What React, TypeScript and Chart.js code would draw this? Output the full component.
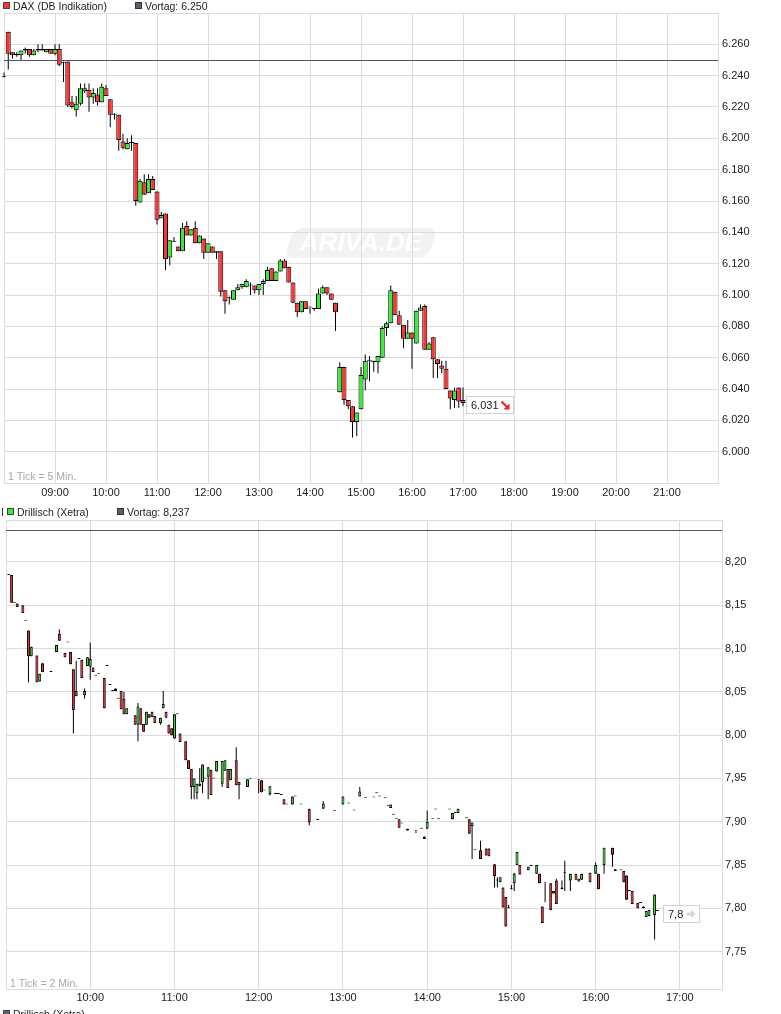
import React, { useEffect, useRef } from 'react';
import { Chart, registerables } from 'chart.js';

Chart.register(...registerables);

// ---------------- DAX (DB Indikation), 5-minute candles ----------------
const daxTimes = [
  '08:00', '08:05', '08:10', '08:15', '08:20', '08:25', '08:30', '08:35', '08:40', '08:45', '08:50', '08:55',
  '09:00', '09:05', '09:10', '09:15', '09:20', '09:25', '09:30', '09:35', '09:40', '09:45', '09:50', '09:55',
  '10:00', '10:05', '10:10', '10:15', '10:20', '10:25', '10:30', '10:35', '10:40', '10:45', '10:50', '10:55',
  '11:00', '11:05', '11:10', '11:15', '11:20', '11:25', '11:30', '11:35', '11:40', '11:45', '11:50', '11:55',
  '12:00', '12:05', '12:10', '12:15', '12:20', '12:25', '12:30', '12:35', '12:40', '12:45', '12:50', '12:55',
  '13:00', '13:05', '13:10', '13:15', '13:20', '13:25', '13:30', '13:35', '13:40', '13:45', '13:50', '13:55',
  '14:00', '14:05', '14:10', '14:15', '14:20', '14:25', '14:30', '14:35', '14:40', '14:45', '14:50', '14:55',
  '15:00', '15:05', '15:10', '15:15', '15:20', '15:25', '15:30', '15:35', '15:40', '15:45', '15:50', '15:55',
  '16:00', '16:05', '16:10', '16:15', '16:20', '16:25', '16:30', '16:35', '16:40', '16:45', '16:50', '16:55',
  '17:00',
];
const daxOpen = [
  6239, 6268, 6255, 6253, 6253, 6256, 6257, 6253, 6256, 6257, 6255, 6257,
  6254, 6257, 6248, 6249, 6223, 6218, 6222, 6230, 6231, 6226, 6228, 6223,
  6232, 6225, 6215, 6215, 6198, 6193, 6197, 6197, 6159, 6172, 6165, 6174,
  6166, 6149, 6152, 6124, 6134, 6131, 6128, 6144, 6138, 6143, 6133, 6136,
  6127, 6131, 6128, 6128, 6103, 6098, 6097, 6103, 6105, 6105, 6106, 6106,
  6103, 6107, 6109, 6117, 6109, 6115, 6122, 6118, 6108, 6095, 6089, 6096,
  6092, 6091, 6091, 6101, 6105, 6101, 6095, 6038, 6054, 6033, 6029, 6019,
  6027, 6046, 6058, 6058, 6057, 6060, 6079, 6082, 6102, 6087, 6081, 6072,
  6076, 6069, 6090, 6093, 6065, 6073, 6059, 6055, 6053, 6039, 6033, 6041,
  6033,
];
const daxHigh = [
  6242, 6268, 6255, 6255, 6256, 6258, 6257, 6257, 6260, 6260, 6257, 6257,
  6260, 6260, 6249, 6249, 6227, 6227, 6235, 6235, 6235, 6232, 6232, 6235,
  6234, 6225, 6216, 6215, 6203, 6200, 6202, 6197, 6174, 6177, 6177, 6176,
  6166, 6153, 6152, 6135, 6137, 6131, 6146, 6147, 6142, 6147, 6138, 6136,
  6133, 6131, 6128, 6128, 6103, 6099, 6103, 6107, 6107, 6110, 6108, 6106,
  6107, 6110, 6118, 6117, 6115, 6123, 6123, 6118, 6108, 6095, 6096, 6096,
  6092, 6091, 6104, 6106, 6105, 6101, 6095, 6057, 6054, 6033, 6029, 6025,
  6054, 6062, 6061, 6058, 6061, 6080, 6083, 6106, 6102, 6090, 6081, 6084,
  6076, 6090, 6094, 6094, 6070, 6073, 6059, 6058, 6058, 6039, 6041, 6041,
  6041,
];
const daxLow = [
  6239, 6244, 6251, 6252, 6250, 6254, 6252, 6253, 6255, 6256, 6255, 6254,
  6253, 6246, 6236, 6220, 6219, 6214, 6221, 6229, 6217, 6222, 6221, 6223,
  6227, 6207, 6212, 6192, 6193, 6193, 6192, 6157, 6159, 6164, 6165, 6167,
  6145, 6149, 6116, 6119, 6134, 6128, 6128, 6138, 6138, 6133, 6133, 6123,
  6127, 6127, 6123, 6099, 6088, 6094, 6097, 6103, 6104, 6105, 6100, 6101,
  6100, 6100, 6109, 6109, 6109, 6115, 6117, 6108, 6095, 6086, 6089, 6091,
  6088, 6090, 6091, 6101, 6100, 6097, 6077, 6038, 6030, 6027, 6009, 6010,
  6027, 6039, 6045, 6051, 6050, 6060, 6074, 6082, 6087, 6081, 6066, 6072,
  6053, 6069, 6090, 6065, 6065, 6047, 6047, 6050, 6040, 6027, 6028, 6028,
  6029,
];
const daxClose = [
  6239, 6254, 6253, 6254, 6256, 6257, 6253, 6256, 6257, 6256, 6257, 6254,
  6257, 6247, 6248, 6221, 6220, 6222, 6232, 6232, 6226, 6229, 6223, 6233,
  6227, 6215, 6215, 6199, 6194, 6197, 6197, 6160, 6173, 6164, 6174, 6167,
  6148, 6151, 6123, 6135, 6134, 6128, 6143, 6138, 6142, 6133, 6138, 6127,
  6133, 6127, 6127, 6102, 6096, 6098, 6103, 6105, 6107, 6109, 6106, 6103,
  6107, 6109, 6116, 6109, 6115, 6122, 6117, 6108, 6095, 6089, 6096, 6091,
  6092, 6091, 6101, 6105, 6101, 6097, 6089, 6054, 6033, 6029, 6019, 6025,
  6049, 6058, 6058, 6057, 6061, 6079, 6082, 6103, 6087, 6081, 6072, 6076,
  6072, 6090, 6092, 6065, 6069, 6059, 6056, 6053, 6040, 6034, 6039, 6032,
  6031,
];
const daxPrevClose = 6250;
const daxYTicks = [6000, 6020, 6040, 6060, 6080, 6100, 6120, 6140, 6160, 6180, 6200, 6220, 6240, 6260];
const daxXTicks = ['09:00', '10:00', '11:00', '12:00', '13:00', '14:00', '15:00', '16:00', '17:00', '18:00', '19:00', '20:00', '21:00'];

// ---------------- Drillisch (Xetra), 2-minute candles ----------------
const drlTimes = [
  '09:02', '09:04', '09:06', '09:08', '09:12', '09:14', '09:16', '09:18', '09:22', '09:24', '09:26', '09:32', '09:36', '09:38', '09:42', '09:44', '09:46', '09:48', '09:50', '09:52', '09:54', '09:56', '09:58',
  '10:00', '10:02', '10:04', '10:06', '10:10', '10:12', '10:14', '10:16', '10:18', '10:20', '10:22', '10:24', '10:26', '10:32', '10:34', '10:36', '10:38', '10:40', '10:42', '10:44', '10:46', '10:50', '10:52', '10:54', '10:56', '10:58',
  '11:00', '11:02', '11:04', '11:08', '11:10', '11:12', '11:14', '11:16', '11:18', '11:20', '11:22', '11:24', '11:26', '11:28', '11:30', '11:34', '11:36', '11:38', '11:40', '11:44', '11:46', '11:52', '11:54',
  '12:00', '12:02', '12:04', '12:08', '12:12', '12:14', '12:16', '12:18', '12:20', '12:24', '12:26', '12:30', '12:36', '12:42', '12:46', '12:54',
  '13:00', '13:04', '13:08', '13:12', '13:16', '13:22', '13:24', '13:26', '13:30', '13:32', '13:34', '13:36', '13:38', '13:40', '13:42', '13:46', '13:52', '13:56', '13:58',
  '14:00', '14:04', '14:06', '14:08', '14:16', '14:18', '14:20', '14:22', '14:28', '14:30', '14:32', '14:34', '14:38', '14:42', '14:44', '14:48', '14:50', '14:52', '14:54', '14:56', '14:58',
  '15:00', '15:02', '15:04', '15:06', '15:12', '15:14', '15:18', '15:20', '15:22', '15:24', '15:28', '15:30', '15:32', '15:36', '15:38', '15:42', '15:46', '15:48', '15:50', '15:56',
  '16:00', '16:02', '16:06', '16:12', '16:14', '16:18', '16:20', '16:22', '16:24', '16:26', '16:30', '16:32', '16:34', '16:36', '16:38', '16:42', '16:44',
];
const drlOpen = [
  8.185, 8.185, 8.153, 8.152, 8.150, 8.132, 8.121, 8.091, 8.092, 8.062, 8.083, 8.073, 8.096, 8.117, 8.095, 8.107, 8.096, 8.076, 8.051, 8.088, 8.087, 8.046, 8.080,
  8.079, 8.078, 8.068, 8.071, 8.066, 8.080, 8.058, 8.051, 8.054, 8.042, 8.051, 8.042, 8.024, 8.023, 8.012, 8.031, 8.013, 8.012, 8.024, 8.027, 8.022, 8.014, 8.031, 8.027, 8.012, 8.008,
  7.996, 8.024, 8.002, 7.993, 7.971, 7.961, 7.940, 7.933, 7.944, 7.946, 7.950, 7.952, 7.960, 7.950, 7.958, 7.944, 7.959, 7.961, 7.948, 7.971, 7.946, 7.940, 7.949,
  7.948, 7.948, 7.936, 7.932, 7.932, 7.932, 7.931, 7.926, 7.920, 7.920, 7.929, 7.920, 7.915, 7.902, 7.915, 7.912,
  7.920, 7.921, 7.913, 7.929, 7.927, 7.928, 7.933, 7.929, 7.927, 7.918, 7.916, 7.908, 7.903, 7.903, 7.898, 7.892, 7.889, 7.892, 7.883,
  7.892, 7.903, 7.914, 7.903, 7.914, 7.903, 7.910, 7.910, 7.904, 7.903, 7.895, 7.867, 7.867, 7.869, 7.869, 7.851, 7.832, 7.830, 7.824, 7.813, 7.800,
  7.822, 7.829, 7.850, 7.850, 7.844, 7.849, 7.840, 7.840, 7.802, 7.829, 7.829, 7.817, 7.832, 7.822, 7.841, 7.832, 7.840, 7.831, 7.833, 7.841,
  7.840, 7.840, 7.850, 7.870, 7.845, 7.844, 7.843, 7.838, 7.820, 7.820, 7.806, 7.806, 7.802, 7.790, 7.791, 7.792, 7.797,
];
const drlHigh = [
  8.185, 8.185, 8.153, 8.152, 8.150, 8.132, 8.121, 8.102, 8.092, 8.071, 8.083, 8.073, 8.104, 8.122, 8.095, 8.107, 8.096, 8.076, 8.086, 8.088, 8.087, 8.054, 8.090,
  8.107, 8.078, 8.068, 8.071, 8.066, 8.080, 8.058, 8.051, 8.054, 8.042, 8.051, 8.050, 8.031, 8.023, 8.037, 8.031, 8.013, 8.027, 8.024, 8.027, 8.022, 8.020, 8.051, 8.027, 8.012, 8.008,
  8.024, 8.024, 8.002, 7.993, 7.971, 7.961, 7.950, 7.944, 7.962, 7.966, 7.950, 7.963, 7.960, 7.950, 7.970, 7.970, 7.971, 7.961, 7.961, 7.986, 7.946, 7.949, 7.949,
  7.948, 7.948, 7.936, 7.941, 7.932, 7.932, 7.931, 7.926, 7.920, 7.929, 7.929, 7.920, 7.915, 7.902, 7.924, 7.912,
  7.929, 7.921, 7.913, 7.940, 7.927, 7.928, 7.933, 7.929, 7.927, 7.918, 7.920, 7.908, 7.903, 7.903, 7.898, 7.892, 7.889, 7.892, 7.883,
  7.913, 7.903, 7.914, 7.903, 7.914, 7.910, 7.910, 7.915, 7.904, 7.903, 7.899, 7.867, 7.878, 7.869, 7.869, 7.851, 7.836, 7.836, 7.824, 7.813, 7.804,
  7.827, 7.841, 7.865, 7.850, 7.848, 7.849, 7.850, 7.840, 7.802, 7.829, 7.829, 7.820, 7.834, 7.832, 7.855, 7.840, 7.840, 7.834, 7.840, 7.841,
  7.853, 7.840, 7.870, 7.870, 7.845, 7.844, 7.843, 7.838, 7.820, 7.820, 7.806, 7.806, 7.802, 7.797, 7.798, 7.816, 7.797,
];
const drlLow = [
  8.185, 8.153, 8.153, 8.148, 8.141, 8.132, 8.061, 8.091, 8.061, 8.062, 8.073, 8.073, 8.096, 8.109, 8.090, 8.107, 8.082, 8.002, 8.045, 8.088, 8.066, 8.042, 8.080,
  8.064, 8.073, 8.068, 8.071, 8.031, 8.080, 8.058, 8.051, 8.051, 8.042, 8.030, 8.024, 8.024, 8.012, 7.993, 8.012, 8.004, 8.012, 8.020, 8.021, 8.014, 8.012, 8.031, 8.020, 8.002, 8.000,
  7.996, 8.024, 7.992, 7.971, 7.961, 7.926, 7.926, 7.926, 7.941, 7.933, 7.950, 7.926, 7.931, 7.950, 7.958, 7.940, 7.959, 7.939, 7.948, 7.942, 7.926, 7.940, 7.949,
  7.933, 7.934, 7.936, 7.930, 7.932, 7.932, 7.931, 7.920, 7.920, 7.920, 7.929, 7.920, 7.896, 7.902, 7.915, 7.912,
  7.920, 7.921, 7.913, 7.929, 7.927, 7.928, 7.933, 7.929, 7.927, 7.918, 7.916, 7.908, 7.903, 7.893, 7.898, 7.890, 7.887, 7.892, 7.880,
  7.892, 7.903, 7.914, 7.903, 7.914, 7.903, 7.910, 7.910, 7.904, 7.886, 7.857, 7.867, 7.857, 7.861, 7.860, 7.824, 7.824, 7.830, 7.801, 7.779, 7.800,
  7.822, 7.820, 7.850, 7.839, 7.844, 7.849, 7.840, 7.829, 7.783, 7.807, 7.798, 7.817, 7.805, 7.822, 7.820, 7.820, 7.833, 7.831, 7.833, 7.830,
  7.840, 7.822, 7.840, 7.848, 7.843, 7.844, 7.830, 7.810, 7.820, 7.805, 7.800, 7.806, 7.800, 7.790, 7.791, 7.764, 7.797,
];
const drlClose = [
  8.185, 8.153, 8.153, 8.148, 8.141, 8.132, 8.091, 8.102, 8.061, 8.071, 8.073, 8.073, 8.104, 8.109, 8.090, 8.107, 8.082, 8.029, 8.045, 8.088, 8.066, 8.051, 8.090,
  8.088, 8.073, 8.068, 8.071, 8.031, 8.080, 8.058, 8.051, 8.051, 8.042, 8.030, 8.024, 8.031, 8.012, 8.033, 8.012, 8.004, 8.027, 8.020, 8.021, 8.014, 8.020, 8.036, 8.020, 8.002, 8.000,
  8.024, 8.024, 7.992, 7.971, 7.961, 7.940, 7.950, 7.944, 7.941, 7.966, 7.950, 7.963, 7.931, 7.950, 7.970, 7.970, 7.971, 7.939, 7.961, 7.942, 7.942, 7.949, 7.949,
  7.948, 7.934, 7.936, 7.941, 7.932, 7.932, 7.931, 7.920, 7.920, 7.929, 7.929, 7.920, 7.899, 7.902, 7.921, 7.912,
  7.929, 7.921, 7.913, 7.935, 7.927, 7.928, 7.933, 7.929, 7.927, 7.918, 7.920, 7.908, 7.903, 7.893, 7.898, 7.890, 7.889, 7.892, 7.880,
  7.900, 7.903, 7.914, 7.903, 7.914, 7.910, 7.910, 7.915, 7.904, 7.886, 7.899, 7.867, 7.857, 7.861, 7.860, 7.837, 7.832, 7.836, 7.801, 7.779, 7.800,
  7.822, 7.840, 7.865, 7.839, 7.848, 7.849, 7.850, 7.829, 7.783, 7.829, 7.798, 7.820, 7.805, 7.824, 7.841, 7.840, 7.833, 7.834, 7.840, 7.830,
  7.850, 7.822, 7.870, 7.862, 7.843, 7.844, 7.830, 7.810, 7.820, 7.805, 7.800, 7.806, 7.800, 7.797, 7.798, 7.816, 7.797,
];
const drlPrevClose = 8.237;
const drlYTicks = [7.75, 7.8, 7.85, 7.9, 7.95, 8.0, 8.05, 8.1, 8.15, 8.2];
const drlXTicks = ['10:00', '11:00', '12:00', '13:00', '14:00', '15:00', '16:00', '17:00'];

// ---------------- styling ----------------
const RED = '#ff3333';
const GREEN = '#33ee33';
const GRID = '#dcdcdc';
const SLATE = '#50566b';
const TEXT = '#222222';
const FONT = "'Liberation Sans', Arial, sans-serif";
const NARROW = "'Liberation Sans Narrow', 'Arial Narrow', 'Liberation Sans', Arial, sans-serif";

Chart.defaults.font.family = FONT;

const toMin = (s: string) => {
  const [h, m] = s.split(':').map(Number);
  return h * 60 + m;
};
const fmtTime = (v: number) =>
  `${String(Math.floor(v / 60)).padStart(2, '0')}:${String(Math.round(v % 60)).padStart(2, '0')}`;
const fmtDax = (v: number) => `${Math.floor(v / 1000)}.${String(Math.round(v % 1000)).padStart(3, '0')}`;
const fmtComma = (d: number) => (v: number) => v.toFixed(d).replace('.', ',');

type Spec = {
  id: string;
  times: string[];
  open: number[];
  high: number[];
  low: number[];
  close: number[];
  prev: number;
  yTicks: number[];
  yMin: number;
  yMax: number;
  xTicks: string[];
  xStart: string;
  xEnd: string;
  fmtY: (v: number) => string;
  fmtPrev: (v: number) => string;
  fmtLast: (v: number) => string;
  name: string;
  nameColor: string;
  tickNote: string;
};

type Geo = {
  height: number;
  left: number;
  top: number;
  yAxisW: number;
  xAxisH: number;
  body: number;
  xPad: number;
  yPad: number;
  legendTop: number;
  legendX: number;
  prevX: number;
  bar: boolean;
  noteBase: number;
  box: { dx: number; dy: number; w: number; arrow: 'down' | 'right' };
  watermark: boolean;
  footer: boolean;
};

const daxSpec: Spec = {
  id: 'dax',
  times: daxTimes,
  open: daxOpen,
  high: daxHigh,
  low: daxLow,
  close: daxClose,
  prev: daxPrevClose,
  yTicks: daxYTicks,
  yMin: 5980,
  yMax: 6280,
  xTicks: daxXTicks,
  xStart: '08:00',
  xEnd: '22:00',
  fmtY: fmtDax,
  fmtPrev: fmtDax,
  fmtLast: fmtDax,
  name: 'DAX (DB Indikation)',
  nameColor: RED,
  tickNote: '1 Tick = 5 Min.',
};

const drlSpec: Spec = {
  id: 'drl',
  times: drlTimes,
  open: drlOpen,
  high: drlHigh,
  low: drlLow,
  close: drlClose,
  prev: drlPrevClose,
  yTicks: drlYTicks,
  yMin: 7.7068,
  yMax: 8.2485,
  xTicks: drlXTicks,
  xStart: '09:00',
  xEnd: '17:30',
  fmtY: fmtComma(2),
  fmtPrev: fmtComma(3),
  fmtLast: fmtComma(1),
  name: 'Drillisch (Xetra)',
  nameColor: GREEN,
  tickNote: '1 Tick = 2 Min.',
};

const topGeo: Geo = {
  height: 500, left: 4, top: 13, yAxisW: 63, xAxisH: 17, body: 5, xPad: 3, yPad: 4,
  legendTop: 2, legendX: 3, prevX: 135, bar: false, noteBase: 3,
  box: { dx: 3, dy: -7, w: 47, arrow: 'down' }, watermark: true, footer: false,
};
const botGeo: Geo = {
  height: 514, left: 6, top: 20, yAxisW: 59, xAxisH: 25, body: 3, xPad: 2, yPad: 3,
  legendTop: 8, legendX: 7, prevX: 117, bar: true, noteBase: 2,
  box: { dx: 5.5, dy: -6, w: 36, arrow: 'right' }, watermark: false, footer: true,
};

function legendItem(ctx: CanvasRenderingContext2D, x: number, y: number, fill: string, edge: string, text: string) {
  ctx.fillStyle = edge;
  ctx.fillRect(x, y, 7, 7);
  ctx.fillStyle = fill;
  ctx.fillRect(x + 1, y + 1, 5, 5);
  ctx.fillStyle = TEXT;
  ctx.font = `10.5px ${FONT}`;
  ctx.textAlign = 'left';
  ctx.textBaseline = 'alphabetic';
  ctx.fillText(text, x + 10, y + 7.5);
}

function drawWatermark(chart: any) {
  const { ctx, chartArea: ca } = chart;
  const cx = ca.left + (ca.right - ca.left) * 0.5;
  const cy = ca.top + (ca.bottom - ca.top) * 0.489;
  ctx.save();
  ctx.translate(cx, cy);
  ctx.transform(1, 0, -0.35, 1, 0, 0);
  ctx.beginPath();
  ctx.roundRect(-72, -15, 144, 30, 9);
  ctx.fillStyle = 'rgba(0,0,0,0.05)';
  ctx.fill();
  ctx.restore();
  ctx.save();
  ctx.font = `italic bold 26px ${FONT}`;
  ctx.textAlign = 'center';
  ctx.textBaseline = 'middle';
  ctx.fillStyle = 'rgba(255,255,255,0.9)';
  ctx.fillText('ARIVA.DE', cx, cy + 1);
  ctx.restore();
}

function createPanel(canvas: HTMLCanvasElement, spec: Spec, geo: Geo) {
  const xs = spec.times.map(toMin);
  const bodies = xs.map((x, i) => ({
    x,
    y: [Math.min(spec.open[i], spec.close[i]), Math.max(spec.open[i], spec.close[i])],
  }));
  const wicks = xs.map((x, i) => ({ x, y: [spec.low[i], spec.high[i]] }));
  const fills = xs.map((_, i) => (spec.close[i] >= spec.open[i] ? GREEN : RED));
  const xMin = toMin(spec.xStart);
  const xMax = toMin(spec.xEnd);
  const xTickVals = [xMin, ...spec.xTicks.map(toMin), xMax];
  const yTickVals = [spec.yMin, ...spec.yTicks, spec.yMax];
  const last = spec.close.length - 1;

  const overlay = {
    id: 'overlay-' + spec.id,
    beforeDraw(chart: any) {
      if (geo.watermark) drawWatermark(chart);
    },
    afterDatasetsDraw(chart: any) {
      // previous-day close reference line, through the value scale
      const { ctx, chartArea: ca } = chart;
      const y = Math.round(chart.scales.y.getPixelForValue(spec.prev)) + 0.5;
      ctx.save();
      ctx.strokeStyle = SLATE;
      ctx.lineWidth = 1;
      ctx.beginPath();
      ctx.moveTo(ca.left, y);
      ctx.lineTo(ca.right, y);
      ctx.stroke();
      ctx.restore();
    },
    afterDraw(chart: any) {
      const { ctx, chartArea: ca } = chart;
      ctx.save();
      // legend
      if (geo.bar) {
        ctx.fillStyle = '#333';
        ctx.fillRect(2, geo.legendTop, 1, 8);
      }
      legendItem(ctx, geo.legendX, geo.legendTop, spec.nameColor, '#444', spec.name);
      legendItem(ctx, geo.prevX, geo.legendTop, '#5a5f73', '#333', 'Vortag: ' + spec.fmtPrev(spec.prev));
      // tick note
      ctx.fillStyle = '#a8a8a8';
      ctx.font = `10.5px ${FONT}`;
      ctx.textAlign = 'left';
      ctx.textBaseline = 'alphabetic';
      ctx.fillText(spec.tickNote, ca.left + 4, ca.bottom - geo.noteBase);
      // last price box
      const px = chart.scales.x.getPixelForValue(xs[last]) + geo.box.dx;
      const py = chart.scales.y.getPixelForValue(spec.close[last]);
      const left = Math.round(px) + 0.5;
      const top = Math.round(py + geo.box.dy) + 0.5;
      ctx.fillStyle = '#ffffff';
      ctx.fillRect(left, top, geo.box.w, 17);
      ctx.strokeStyle = '#d2d2d2';
      ctx.lineWidth = 1;
      ctx.strokeRect(left, top, geo.box.w, 17);
      ctx.fillStyle = TEXT;
      ctx.font = `11px ${FONT}`;
      ctx.fillText(spec.fmtLast(spec.close[last]), left + 4.5, top + 12.5);
      if (geo.box.arrow === 'down') {
        ctx.strokeStyle = '#ff1a1a';
        ctx.fillStyle = '#ff1a1a';
        ctx.lineWidth = 2;
        ctx.beginPath();
        ctx.moveTo(left + 35, top + 5);
        ctx.lineTo(left + 40.5, top + 10.5);
        ctx.stroke();
        ctx.beginPath();
        ctx.moveTo(left + 43, top + 13);
        ctx.lineTo(left + 43, top + 7);
        ctx.lineTo(left + 37, top + 13);
        ctx.closePath();
        ctx.fill();
      } else {
        ctx.strokeStyle = '#d6d6d6';
        ctx.fillStyle = '#d6d6d6';
        ctx.lineWidth = 3;
        ctx.beginPath();
        ctx.moveTo(left + 23, top + 8.5);
        ctx.lineTo(left + 28, top + 8.5);
        ctx.stroke();
        ctx.beginPath();
        ctx.moveTo(left + 32, top + 8.5);
        ctx.lineTo(left + 27.5, top + 4);
        ctx.lineTo(left + 27.5, top + 13);
        ctx.closePath();
        ctx.fill();
      }
      if (geo.footer) {
        const fy = chart.height + 4;
        ctx.fillStyle = '#444';
        ctx.fillRect(3, fy - 8, 7, 7);
        ctx.fillStyle = '#5a5f73';
        ctx.fillRect(4, fy - 7, 5, 5);
        ctx.fillStyle = TEXT;
        ctx.font = `10.5px ${FONT}`;
        ctx.fillText(spec.name, 13, fy);
      }
      ctx.restore();
    },
  };

  return new Chart(canvas, {
    type: 'bar',
    data: {
      datasets: [
        {
          type: 'bar',
          data: bodies,
          backgroundColor: fills,
          borderColor: '#000000',
          borderWidth: 1,
          borderSkipped: false,
          barThickness: geo.body,
          grouped: false,
          minBarLength: 1,
          inflateAmount: 0,
          clip: 3,
          order: 1,
        } as any,
        {
          type: 'bar',
          data: wicks,
          backgroundColor: '#000000',
          borderWidth: 0,
          barThickness: 1,
          grouped: false,
          inflateAmount: 0,
          clip: 3,
          order: 2,
        } as any,
      ],
    },
    options: {
      responsive: false,
      animation: false,
      devicePixelRatio: 1,
      events: [],
      layout: { padding: { left: geo.left, top: geo.top, right: 0, bottom: 0 } },
      plugins: { legend: { display: false }, tooltip: { enabled: false } },
      scales: {
        x: {
          type: 'linear',
          min: xMin,
          max: xMax,
          offset: false,
          grid: { color: GRID, drawTicks: false, offset: false },
          border: { color: GRID },
          ticks: {
            autoSkip: false,
            maxRotation: 0,
            padding: geo.xPad,
            color: TEXT,
            font: { family: NARROW, size: 11 },
            callback: (v: any, i: number) => (i === 0 || i === xTickVals.length - 1 ? '' : fmtTime(Number(v))),
          },
          afterBuildTicks: (s: any) => {
            s.ticks = xTickVals.map((value) => ({ value }));
          },
          afterFit: (s: any) => {
            s.height = geo.xAxisH;
          },
        },
        y: {
          type: 'linear',
          position: 'right',
          min: spec.yMin,
          max: spec.yMax,
          grid: { color: GRID, drawTicks: false },
          border: { color: GRID },
          ticks: {
            autoSkip: false,
            padding: geo.yPad,
            color: TEXT,
            font: { family: FONT, size: 11 },
            callback: (v: any, i: number) => (i === 0 || i === yTickVals.length - 1 ? '' : spec.fmtY(Number(v))),
          },
          afterBuildTicks: (s: any) => {
            s.ticks = yTickVals.map((value) => ({ value }));
          },
          afterFit: (s: any) => {
            s.width = geo.yAxisW;
          },
        },
      },
    } as any,
    plugins: [overlay],
  });
}

export default function App() {
  const topRef = useRef<HTMLCanvasElement>(null);
  const botRef = useRef<HTMLCanvasElement>(null);

  useEffect(() => {
    const c1 = createPanel(topRef.current as HTMLCanvasElement, daxSpec, topGeo);
    const c2 = createPanel(botRef.current as HTMLCanvasElement, drlSpec, botGeo);
    return () => {
      c1.destroy();
      c2.destroy();
    };
  }, []);

  return (
    <div
      style={{
        position: 'absolute',
        left: 0,
        top: 0,
        width: 781,
        height: 1014,
        background: '#ffffff',
        overflow: 'hidden',
      }}
    >
      <canvas ref={topRef} width={781} height={topGeo.height} style={{ display: 'block', width: 781, height: topGeo.height }} />
      <canvas ref={botRef} width={781} height={botGeo.height} style={{ display: 'block', width: 781, height: botGeo.height }} />
    </div>
  );
}
